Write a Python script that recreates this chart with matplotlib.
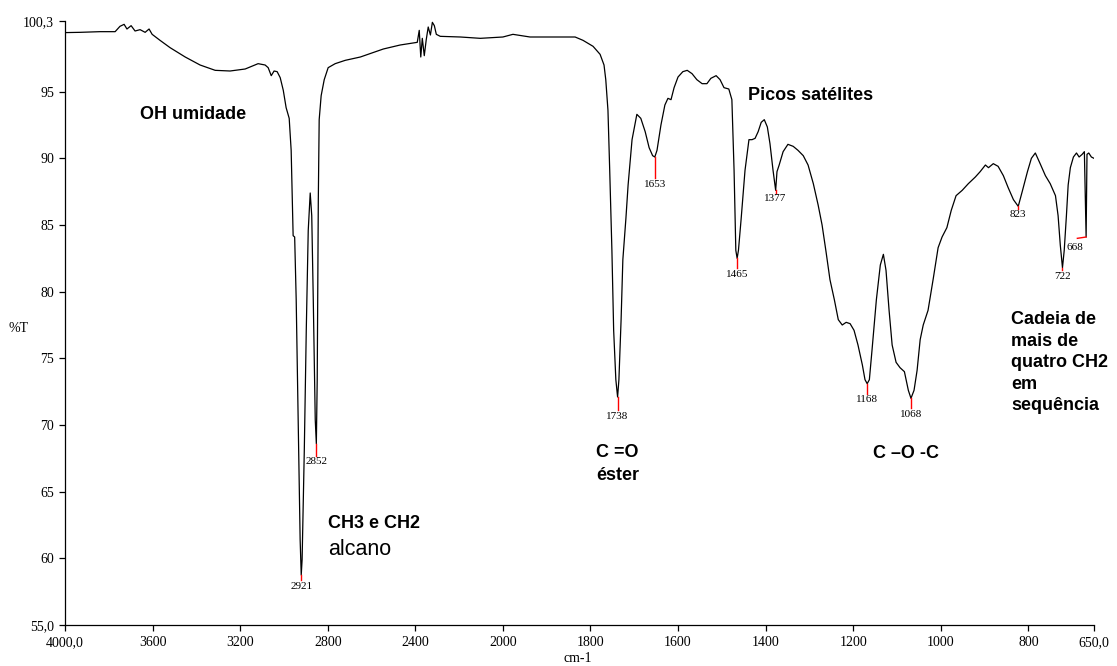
import numpy as np
import matplotlib.pyplot as plt

# Espectro FTIR: número de onda (cm-1) e transmitância (%T)
wavenumber = [
    4000, 3931, 3840, 3771, 3749, 3730, 3717, 3698, 3680, 3657, 3634, 3616, 3602,
    3566, 3520, 3451, 3383, 3314, 3246, 3177, 3118, 3086, 3072, 3058, 3045, 3031,
    3017, 3003, 2990, 2976, 2967, 2958, 2951, 2944, 2935, 2926, 2921, 2917, 2907,
    2898, 2889, 2880, 2873, 2866, 2857, 2852, 2848, 2843, 2839, 2830, 2816, 2798,
    2766, 2720, 2651, 2546, 2469, 2391, 2382, 2375, 2368, 2359, 2350, 2341, 2331,
    2322, 2313, 2304, 2286, 2194, 2103, 2000, 1977, 1938, 1870, 1835, 1817, 1794,
    1778, 1769, 1765, 1760, 1756, 1751, 1747, 1742, 1738, 1735, 1730, 1726, 1719,
    1714, 1705, 1694, 1685, 1675, 1666, 1658, 1653, 1648, 1639, 1630, 1623, 1616,
    1609, 1600, 1589, 1579, 1568, 1557, 1545, 1534, 1525, 1513, 1504, 1495, 1484,
    1477, 1472, 1468, 1465, 1462, 1456, 1447, 1438, 1431, 1424, 1417, 1410, 1403,
    1396, 1390, 1383, 1377, 1374, 1369, 1360, 1349, 1337, 1326, 1314, 1303, 1291,
    1280, 1271, 1262, 1253, 1243, 1234, 1225, 1216, 1207, 1198, 1189, 1179, 1173,
    1168, 1163, 1157, 1147, 1138, 1131, 1125, 1118, 1111, 1102, 1093, 1083, 1074,
    1068, 1061, 1054, 1047, 1040, 1029, 1017, 1006, 997, 986, 976, 965, 951, 937,
    921, 910, 898, 891, 880, 869, 857, 846, 834, 823, 814, 802, 793, 784, 773, 761,
    750, 738, 732, 727, 722, 718, 713, 709, 704, 697, 690, 684, 677, 672, 668, 666,
    662, 656, 650,
]
transmittance = [
    99.43, 99.45, 99.5, 99.5, 99.9, 100.05, 99.7, 99.95, 99.55, 99.65, 99.45, 99.7, 99.3,
    98.85, 98.3, 97.6, 97.0, 96.6, 96.55, 96.7, 97.1, 97.0, 96.8, 96.2, 96.55, 96.5,
    96.05, 95.1, 93.8, 93.0, 90.6, 84.2, 84.1, 79.4, 70.4, 61.4, 58.75, 59.9, 68.1,
    77.1, 84.6, 87.4, 85.7, 79.4, 70.4, 68.6, 73.4, 86.9, 92.9, 94.7, 95.9, 96.8,
    97.1, 97.35, 97.6, 98.2, 98.5, 98.7, 99.6, 97.6, 99.0, 97.7, 98.9, 99.85, 99.25,
    100.2, 99.95, 99.3, 99.15, 99.1, 99.0, 99.1, 99.3, 99.1, 99.1, 99.1, 98.85, 98.4,
    97.8, 97.0, 95.9, 93.6, 89.1, 83.1, 77.1, 73.4, 72.1, 73.4, 77.9, 82.4, 85.5,
    88.0, 91.4, 93.3, 93.0, 92.0, 90.8, 90.2, 90.1, 90.6, 92.5, 94.0, 94.5, 94.4,
    95.3, 96.1, 96.5, 96.6, 96.35, 95.9, 95.6, 95.6, 96.0, 96.2, 95.9, 95.3, 95.2,
    94.4, 89.1, 83.1, 82.5, 83.1, 85.4, 89.1, 91.4, 91.4, 91.5, 92.0, 92.7, 92.9,
    92.35, 91.1, 89.1, 87.6, 89.0, 89.5, 90.5, 91.05, 90.9, 90.6, 90.2, 89.5, 88.1,
    86.5, 85.0, 83.0, 80.9, 79.4, 77.9, 77.5, 77.7, 77.6, 77.1, 76.0, 74.5, 73.4,
    73.1, 73.4, 75.6, 79.4, 82.0, 82.8, 81.6, 78.6, 76.0, 74.7, 74.3, 74.0, 72.6,
    72.0, 72.6, 74.1, 76.4, 77.5, 78.6, 81.0, 83.3, 84.1, 84.8, 86.1, 87.2, 87.6, 88.1,
    88.6, 89.0, 89.5, 89.3, 89.6, 89.4, 88.7, 87.8, 86.9, 86.4, 87.5, 89.0, 90.0, 90.4, 89.6, 88.7,
    88.1, 87.2, 85.7, 83.5, 81.8, 83.1, 85.7, 88.0, 89.3, 90.1, 90.4, 90.1, 90.3, 90.5, 84.1, 90.3,
    90.4, 90.1, 90.0,
]

# picos marcados
peaks = [2921, 2852, 1738, 1653, 1465, 1377, 1168, 1068, 823, 722]
peak_labels = ["2921", "2852", "1738", "1653", "1465", "1377", "1168", "1068", "823", "722"]

xtick_values = [4000, 3600, 3200, 2800, 2400, 2000, 1800, 1600, 1400, 1200, 1000, 800, 650]
xtick_labels = ["4000,0", "3600", "3200", "2800", "2400", "2000", "1800", "1600",
                "1400", "1200", "1000", "800", "650,0"]
ytick_values = [55, 60, 65, 70, 75, 80, 85, 90, 95, 100.3]
ytick_labels = ["55,0", "60", "65", "70", "75", "80", "85", "90", "95", "100,3"]

SERIF = "Liberation Serif"
SANS = "Liberation Sans"
W, H = 1117, 666


def forward(x):
    # escala dupla: acima de 2000 cm-1 a escala é comprimida pela metade
    x = np.asarray(x, dtype=float)
    return np.where(x <= 2000, x, 2000 + (x - 2000) / 2.0)


def inverse(u):
    u = np.asarray(u, dtype=float)
    return np.where(u <= 2000, u, 2000 + (u - 2000) * 2.0)


def ftext(px, py, s, **kw):
    """Texto posicionado em pixels da figura (origem no canto superior esquerdo)."""
    fig.text(px / W, 1 - py / H, s, **kw)


fig = plt.figure(figsize=(W / 100, H / 100), dpi=100)
ax = fig.add_axes([65 / W, (H - 625) / H, 1029 / W, 604 / H])

ax.set_xscale("function", functions=(forward, inverse))
ax.plot(wavenumber, transmittance, color="black", lw=0.9)
ax.set_xlim(4000, 650)
ax.set_ylim(55, 100.3)

# marcas vermelhas e números dos picos
wn_inc = np.array(wavenumber[::-1], dtype=float)
t_inc = np.array(transmittance[::-1], dtype=float)
tick_len = [0.4, 0.9, 1.0, 1.6, 0.75, 0.2, 0.75, 0.75, 0.2, 0.2]
for wn, lab, ln in zip(peaks, peak_labels, tick_len):
    t = np.interp(wn, wn_inc, t_inc)
    ax.plot([wn, wn], [t, t - ln], color="red", lw=1.0)
    ax.text(wn, t - ln - 0.1, lab, ha="center", va="top", fontsize=8, family=SERIF)

# pico 668 com traço inclinado e rótulo à esquerda
t668 = np.interp(668, wn_inc, t_inc)
ax.plot([688, 668], [t668 - 0.1, t668], color="red", lw=1.0)
ax.text(693, t668 - 0.45, "668", ha="center", va="top", fontsize=8, family=SERIF)

ax.set_xticks(xtick_values)
ax.set_xticklabels(xtick_labels)
ax.set_yticks(ytick_values)
ax.set_yticklabels(ytick_labels)
ax.minorticks_off()
for lbl in ax.get_xticklabels() + ax.get_yticklabels():
    lbl.set_family(SERIF)
    lbl.set_fontsize(10)
ax.tick_params(direction="out", length=4, width=0.9, pad=4, colors="black")

for side in ["top", "right"]:
    ax.spines[side].set_visible(False)
for side in ["left", "bottom"]:
    ax.spines[side].set_linewidth(0.9)

# rótulos dos eixos
ftext(19, 328, "%T", ha="center", va="center", fontsize=10, family=SERIF)
ftext(578, 658, "cm-1", ha="center", va="center", fontsize=10, family=SERIF)

# anotações
bold = dict(fontsize=13, fontweight="bold", family=SANS, ha="left", va="baseline")
ftext(140, 119, "OH umidade", **bold)
ftext(328, 528, "CH3 e CH2", **bold)
ftext(328, 555, "alcano", fontsize=15.5, family=SANS, ha="left", va="baseline")
ftext(748, 100, "Picos satélites", **bold)
ftext(596, 457, "C =O", **bold)
ftext(596, 480, "éster", **bold)
ftext(873, 458, "C \u2013O -C", **bold)
for i, line in enumerate(["Cadeia de", "mais de", "quatro CH2", "em", "sequência"]):
    ftext(1011, 324 + i * 21.6, line, **bold)

fig.savefig("out.png", dpi=100)
plt.close(fig)
